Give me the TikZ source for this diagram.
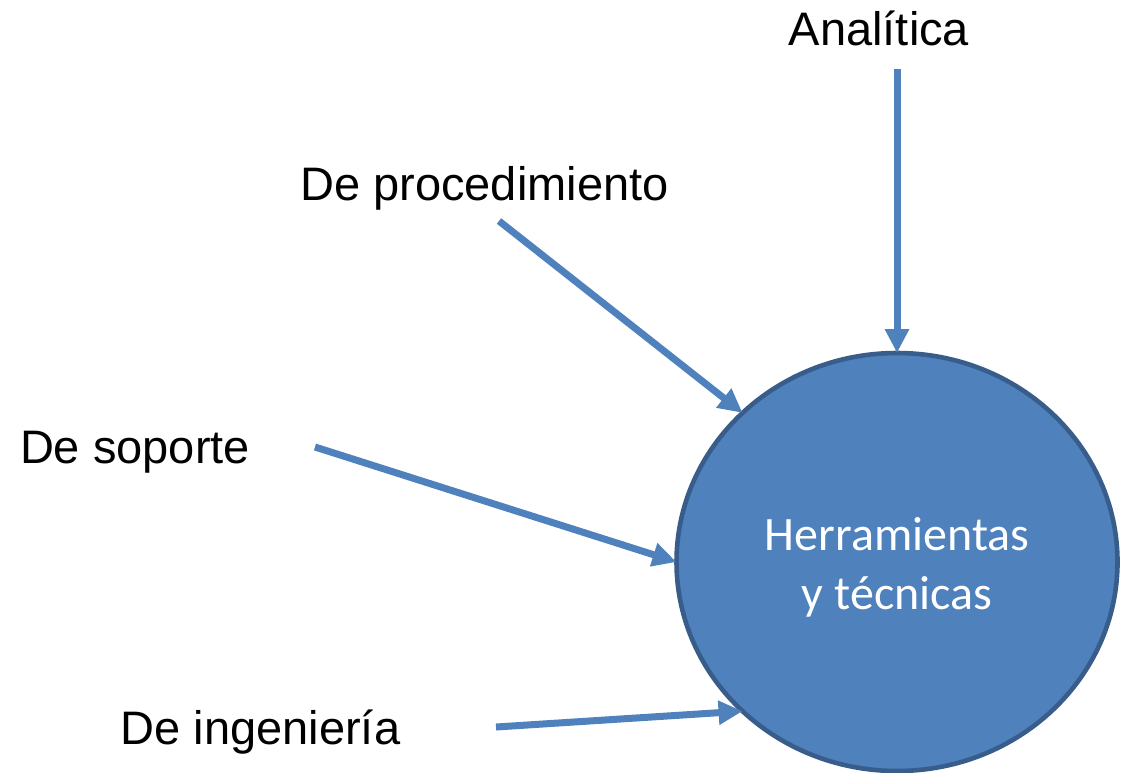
\documentclass[tikz,border=0pt]{standalone}
\usepackage{fontspec}
\setmainfont{Liberation Sans}
\newfontfamily\calibri{Carlito}
\usetikzlibrary{arrows.meta,shapes.geometric}
\definecolor{officeblue}{HTML}{4F81BD}
\definecolor{officeedge}{HTML}{385D8A}

\begin{document}
\begin{tikzpicture}[x=0.5pt,y=-0.5pt,inner sep=0pt,outer sep=0pt,
>={Triangle[length=12pt,width=11.5pt]},
conn/.style={->,draw=officeblue,line width=3.5pt},
lbl/.style={anchor=base,font=\fontsize{23.5}{28}\selectfont},
tool/.style={ellipse,draw=officeedge,fill=officeblue,line width=2.3pt,minimum width=220.5pt,minimum height=209pt,text=white,align=center,font=\calibri\fontsize{24}{29.3}\selectfont}]

\useasboundingbox (0,0) rectangle (1127,772);

\draw (897,562) node[tool] (herr) {\rule{0pt}{22pt}Herramientas\\y técnicas};

\draw (879,45) node[lbl] (ana) {Analítica};
\draw (484.5,200) node[lbl] (proc) {De procedimiento};
\draw (135,463) node[lbl] (sop) {De soporte};
\draw (260.5,744) node[lbl] (ing) {De ingeniería};

% free ends of the arrows, just off the labels
\coordinate (ana0) at (897,69);
\coordinate (proc0) at (499,221);
\coordinate (sop0) at (315,447);
\coordinate (ing0) at (496,727);

\draw[conn] (ana0) -- (herr.90);
\draw[conn] (proc0) -- (herr.136);
\draw[conn] (sop0) -- (herr.180);
\draw[conn] (ing0) -- (herr.224);
\end{tikzpicture}
\end{document}
